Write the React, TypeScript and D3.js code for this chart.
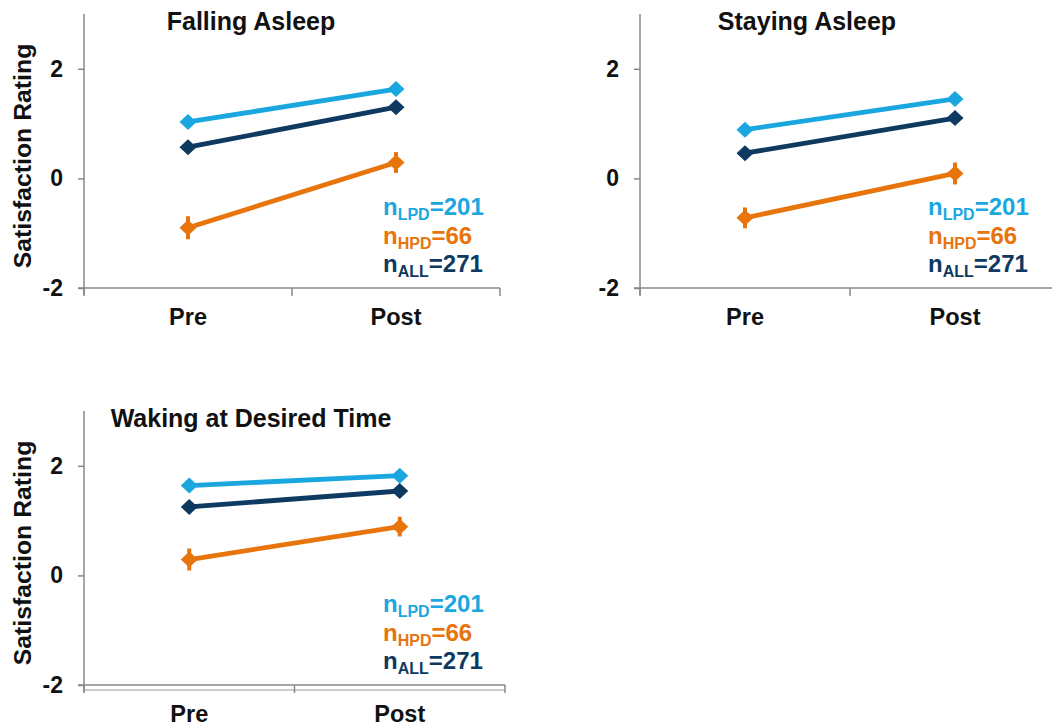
import React, { useEffect, useRef } from "react";
import * as d3 from "d3";

// chart data
const phases = ["Pre", "Post"];
const panelTitles = ["Falling Asleep", "Staying Asleep", "Waking at Desired Time"];
const groupNames = ["LPD", "HPD", "ALL"];
const groupCounts = [201, 66, 271];
const groupColors = ["#1AA7E0", "#E8740C", "#0E3961"];

// means per panel: [Pre, Post]
const lpdMeans = [[1.03, 1.63], [0.89, 1.45], [1.64, 1.82]];
const hpdMeans = [[-0.9, 0.29], [-0.72, 0.09], [0.29, 0.89]];
const allMeans = [[0.57, 1.3], [0.46, 1.1], [1.25, 1.54]];
// error bar half-widths
const lpdErr = [[0.06, 0.06], [0.06, 0.06], [0.05, 0.05]];
const hpdErr = [[0.21, 0.19], [0.19, 0.2], [0.2, 0.18]];
const allErr = [[0.05, 0.05], [0.05, 0.05], [0.04, 0.04]];

const yTicks = [-2, 0, 2];
const yDomain = [-2, 3];

const FONT = "'Liberation Sans', Arial, sans-serif";

const panels = [
  { x0: 84, x1: 500, top: 14, bottom: 288, yLabel: true, legendX: 383, doubleAxis: false },
  { x0: 640, x1: 1060, top: 14, bottom: 288, yLabel: false, legendX: 928, doubleAxis: false },
  { x0: 84, x1: 505, top: 411, bottom: 685, yLabel: true, legendX: 383, doubleAxis: true },
];

const App = () => {
  const ref = useRef<SVGSVGElement>(null);

  useEffect(() => {
    const svg = d3.select(ref.current);
    svg.selectAll("*").remove();

    panels.forEach((p, pi) => {
      const g = svg.append("g");

      const x = d3.scaleBand().domain(phases).range([p.x0, p.x1]);
      const y = d3.scaleLinear().domain(yDomain).range([p.bottom, p.top]);

      // y axis
      const yAxis = g
        .append("g")
        .attr("transform", `translate(${p.x0},0)`)
        .call(d3.axisLeft(y).tickValues(yTicks).tickSize(6).tickSizeOuter(0).tickPadding(15).tickFormat((d) => String(d)));
      yAxis.select(".domain").remove();
      yAxis.selectAll(".tick line").attr("stroke", "#888").attr("stroke-width", 1.5);
      yAxis
        .selectAll(".tick text")
        .attr("font-family", FONT)
        .attr("font-weight", "bold")
        .attr("font-size", 23)
        .attr("fill", "#111");

      g.append("line")
        .attr("x1", p.x0).attr("x2", p.x0)
        .attr("y1", p.top).attr("y2", p.bottom + 7)
        .attr("stroke", "#888").attr("stroke-width", 1.5);

      // x axis
      const xAxis = g
        .append("g")
        .attr("transform", `translate(0,${p.bottom})`)
        .call(d3.axisBottom(x).tickSize(0).tickPadding(20));
      xAxis.select(".domain").remove();
      xAxis
        .selectAll(".tick text")
        .attr("font-family", FONT)
        .attr("font-weight", "bold")
        .attr("font-size", 23.5)
        .attr("fill", "#111");

      g.append("line")
        .attr("x1", p.x0 - 6).attr("x2", p.x1)
        .attr("y1", p.bottom).attr("y2", p.bottom)
        .attr("stroke", "#888").attr("stroke-width", 1.5);
      if (p.doubleAxis) {
        g.append("line")
          .attr("x1", p.x0).attr("x2", p.x1)
          .attr("y1", p.bottom + 5).attr("y2", p.bottom + 5)
          .attr("stroke", "#999").attr("stroke-width", 1.2);
      }
      const bounds = [p.x0, (x(phases[1]) as number), p.x1];
      g.selectAll(".xtick")
        .data(bounds)
        .join("line")
        .attr("x1", (d) => d).attr("x2", (d) => d)
        .attr("y1", p.bottom).attr("y2", p.bottom + 8)
        .attr("stroke", "#888").attr("stroke-width", 1.5);

      // title
      const titleX = pi === 1 ? 807 : 251;
      g.append("text")
        .attr("x", titleX)
        .attr("y", p.top + 16)
        .attr("text-anchor", "middle")
        .attr("font-family", FONT)
        .attr("font-weight", "bold")
        .attr("font-size", 25)
        .attr("fill", "#111")
        .text(panelTitles[pi]);

      if (p.yLabel) {
        g.append("text")
          .attr("transform", `translate(31,${(p.top + p.bottom) / 2 + 5}) rotate(-90)`)
          .attr("text-anchor", "middle")
          .attr("font-family", FONT)
          .attr("font-weight", "bold")
          .attr("font-size", 24.8)
          .attr("fill", "#111")
          .text("Satisfaction Rating");
      }

      // series
      const series = [
        { means: lpdMeans[pi], errs: lpdErr[pi], color: groupColors[0] },
        { means: allMeans[pi], errs: allErr[pi], color: groupColors[2] },
        { means: hpdMeans[pi], errs: hpdErr[pi], color: groupColors[1] },
      ];
      const cx = (i: number) => (x(phases[i]) as number) + x.bandwidth() / 2;
      const line = d3
        .line<number>()
        .x((_, i) => cx(i))
        .y((d) => y(d));

      series.forEach((s) => {
        const sg = g.append("g");
        sg.selectAll(".err")
          .data(s.means)
          .join("line")
          .attr("x1", (_, i) => cx(i)).attr("x2", (_, i) => cx(i))
          .attr("y1", (d, i) => y(d - s.errs[i]))
          .attr("y2", (d, i) => y(d + s.errs[i]))
          .attr("stroke", s.color).attr("stroke-width", 4);
        sg.append("path")
          .attr("d", line(s.means))
          .attr("fill", "none")
          .attr("stroke", s.color)
          .attr("stroke-width", 4.8);
        sg.selectAll(".pt")
          .data(s.means)
          .join("path")
          .attr("d", (d, i) => {
            const px = cx(i);
            const py = y(d);
            return `M${px},${py - 8}L${px + 8.5},${py}L${px},${py + 8}L${px - 8.5},${py}Z`;
          })
          .attr("fill", s.color);
      });

      // sample-size labels
      const baseY = p.bottom - 73;
      groupNames.forEach((name, gi) => {
        const t = g.append("text")
          .attr("x", p.legendX)
          .attr("y", baseY + gi * 28.5)
          .attr("font-family", FONT)
          .attr("font-weight", "bold")
          .attr("font-size", 24)
          .attr("fill", groupColors[gi]);
        t.append("tspan").text("n");
        t.append("tspan").attr("dy", 5).attr("font-size", 16).text(name);
        t.append("tspan").attr("dy", -5).text(`=${groupCounts[gi]}`);
      });
    });
  }, []);

  return (
    <svg
      ref={ref}
      width={1052}
      height={727}
      style={{ position: "absolute", left: 0, top: 0, background: "#fff" }}
    ></svg>
  );
};

export default App;
